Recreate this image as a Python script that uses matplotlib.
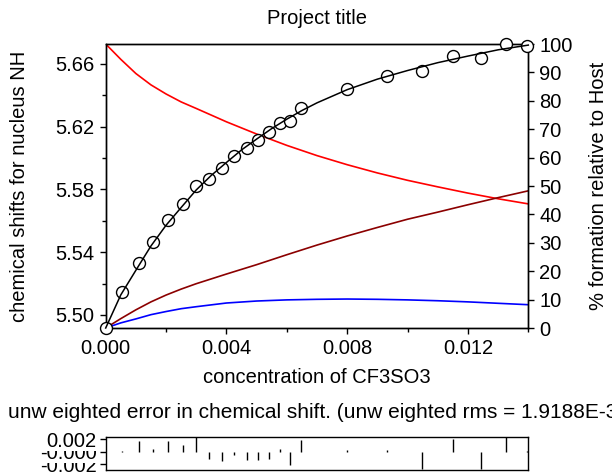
import numpy as np
import matplotlib
matplotlib.use("Agg")
import matplotlib.pyplot as plt
from matplotlib.ticker import FixedLocator, FormatStrFormatter

plt.rcParams['font.family'] = ['Liberation Sans', 'DejaVu Sans']

# Observed chemical shifts of NH vs guest concentration
conc = np.array([0.0, 0.00055, 0.00110, 0.00158, 0.00207, 0.00255, 0.00299, 0.00343,
                 0.00386, 0.00425, 0.00467, 0.00506, 0.00541, 0.00578, 0.00611, 0.00646,
                 0.00800, 0.00933, 0.01049, 0.01151, 0.01242, 0.01325, 0.01395])
shift_obs = np.array([5.4917, 5.5147, 5.5334, 5.5467, 5.5604, 5.5706, 5.5822, 5.5867,
                      5.5935, 5.6014, 5.6063, 5.6116, 5.6165, 5.6226, 5.6239, 5.6318,
                      5.6439, 5.6525, 5.6555, 5.6653, 5.6636, 5.6727, 5.6715])
# unweighted residuals (observed - calculated)
resid = np.array([0.0, 0.0002, 0.0017, 0.0004, 0.0017, 0.0011, 0.0027, -0.0012,
                  -0.0014, -0.0005, -0.0013, -0.0013, -0.0012, 0.0005, -0.0021, 0.0019,
                  0.0003, 0.0003, -0.0028, 0.0020, -0.0028, 0.0027, 0.0001])

# Calculated shift curve
fit_x = np.array([0.0, 0.0005, 0.001, 0.0015, 0.002, 0.0025, 0.003, 0.0035, 0.004,
                  0.0045, 0.005, 0.0055, 0.006, 0.0065, 0.007, 0.008, 0.009, 0.010,
                  0.011, 0.012, 0.013, 0.014])
fit_shift = np.array([5.4917, 5.5128, 5.5285, 5.5440, 5.5572, 5.5685, 5.5797, 5.5890,
                      5.5972, 5.6052, 5.6121, 5.6188, 5.6248, 5.6303, 5.6352, 5.6436,
                      5.6503, 5.6558, 5.6608, 5.6650, 5.6690, 5.6720])

# Species distribution (% relative to host)
spec_x = np.array([0.0, 0.0005, 0.001, 0.0015, 0.002, 0.0025, 0.003, 0.004, 0.005,
                   0.006, 0.007, 0.008, 0.009, 0.010, 0.011, 0.012, 0.013, 0.014])
pct_host = np.array([100.0, 94.6, 89.6, 85.6, 82.4, 79.6, 77.3, 72.6, 68.3,
                     64.3, 60.7, 57.5, 54.6, 52.0, 49.7, 47.5, 45.5, 43.7])
pct_hg = np.array([0.0, 3.3, 6.4, 9.2, 11.6, 13.7, 15.6, 19.0, 22.3,
                   25.8, 29.2, 32.4, 35.4, 38.3, 40.8, 43.4, 45.9, 48.3])
pct_hg2 = np.array([0.0, 1.8, 3.2, 4.7, 5.8, 6.8, 7.5, 8.8, 9.5,
                    9.9, 10.1, 10.2, 10.1, 9.9, 9.6, 9.2, 8.7, 8.2])

W, H = 612, 473
fig = plt.figure(figsize=(W / 100, H / 100), dpi=100, facecolor='white')


def box(l, t, r, b):
    return [l / W, 1 - b / H, (r - l) / W, (b - t) / H]


fs = 14.5

ax = fig.add_axes(box(105.7, 44, 528.3, 328))
ax2 = ax.twinx()
ax.set_zorder(ax2.get_zorder() + 1)
ax.patch.set_visible(False)

ax2.plot(spec_x, pct_host, color='#ff0000', lw=1.2, zorder=2)
ax2.plot(spec_x, pct_hg, color='#8b0000', lw=1.2, zorder=2)
ax2.plot(spec_x, pct_hg2, color='#0000ff', lw=1.2, zorder=2)

ax.plot(conc, shift_obs, 'o', ms=8.6, mfc='white', mec='black', mew=1.0,
        clip_on=False, zorder=3)
ax.plot(fit_x, fit_shift, color='black', lw=1.1, zorder=4, clip_on=False)

ax.set_xlim(0, 0.014)
ax.set_ylim(5.4917, 5.6727)
ax2.set_ylim(0, 100)

ax.xaxis.set_major_locator(FixedLocator([0.0, 0.004, 0.008, 0.012]))
ax.xaxis.set_minor_locator(FixedLocator([0.002, 0.006, 0.010, 0.014]))
ax.xaxis.set_major_formatter(FormatStrFormatter('%.3f'))
ax.yaxis.set_major_locator(FixedLocator([5.50, 5.54, 5.58, 5.62, 5.66]))
ax.yaxis.set_minor_locator(FixedLocator([5.52, 5.56, 5.60, 5.64]))
ax.yaxis.set_major_formatter(FormatStrFormatter('%.2f'))
ax2.set_yticks(np.arange(0, 101, 10))

for a in (ax, ax2):
    for s in a.spines.values():
        s.set_linewidth(1.0)
    a.tick_params(which='major', direction='out', length=4.5, width=1.0,
                  labelsize=fs, pad=3.5)
    a.tick_params(which='minor', direction='out', length=3, width=1.0)

fig.text(317 / W, 1 - 19 / H, 'Project title', ha='center', va='center', fontsize=fs)
fig.text(317 / W, 1 - 377 / H, 'concentration of CF3SO3', ha='center', va='center', fontsize=fs)
fig.text(20 / W, 1 - 186 / H, 'chemical shifts for nucleus NH', ha='center', va='center',
         rotation=90, fontsize=fs)
fig.text(598 / W, 1 - 186 / H, '% formation relative to Host', ha='center', va='center',
         rotation=90, fontsize=fs)

# Residual panel
axr = fig.add_axes(box(105.7, 437, 528.3, 470))
axr.vlines(conc, 0, resid, color='black', lw=1.0)
axr.set_xlim(0, 0.014)
axr.set_ylim(-0.0029, 0.0024)
axr.set_xticks([])
axr.set_yticks([-0.002, 0.0, 0.002])
axr.set_yticklabels(['-0.002', '-0.000', '0.002'])
for s in axr.spines.values():
    s.set_linewidth(1.0)
axr.tick_params(axis='y', direction='out', length=4.5, width=1.0, labelsize=fs, pad=2)
for lbl in axr.get_yticklabels():
    lbl.set_bbox(dict(facecolor='white', edgecolor='none', pad=0))

fig.text(8 / W, 1 - 412 / H,
         'unw eighted error in chemical shift. (unw eighted rms = 1.9188E-3)',
         ha='left', va='center', fontsize=15)

fig.savefig('out.png', dpi=100, facecolor='white')
